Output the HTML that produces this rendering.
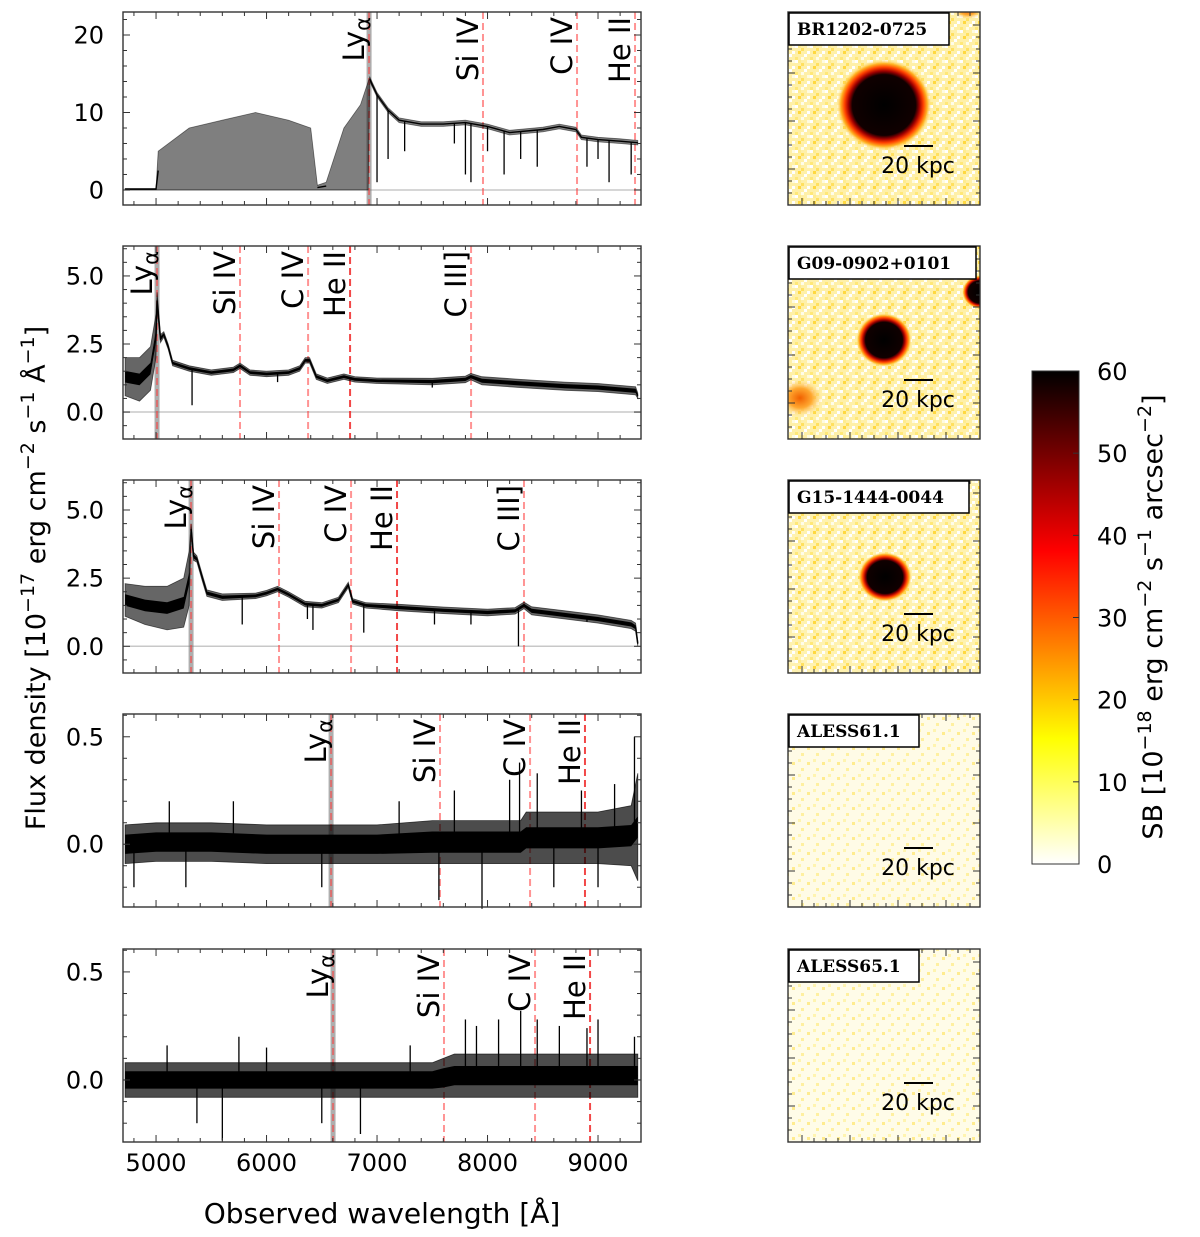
<!DOCTYPE html>
<html><head><meta charset="utf-8"><style>
html,body{margin:0;padding:0;background:#fff;}
svg{display:block;font-family:"DejaVu Sans","Liberation Sans",sans-serif;}
</style></head><body>
<svg id="fig" width="1200" height="1237" viewBox="0 0 1200 1237" xmlns="http://www.w3.org/2000/svg">
<defs>
<linearGradient id="cbar" x1="0" y1="1" x2="0" y2="0">
<stop offset="0" stop-color="#ffffff"/><stop offset="0.254" stop-color="#ffff00"/><stop offset="0.635" stop-color="#ff0000"/><stop offset="1" stop-color="#000000"/>
</linearGradient>
<radialGradient id="blob"><stop offset="0" stop-color="#000"/><stop offset="0.66" stop-color="#100000"/><stop offset="0.74" stop-color="#a00000"/><stop offset="0.82" stop-color="#ff4000"/><stop offset="0.9" stop-color="#ffb020"/><stop offset="1" stop-color="#fff0a0" stop-opacity="0"/></radialGradient>
<radialGradient id="blob2"><stop offset="0" stop-color="#f06000"/><stop offset="0.5" stop-color="#ffa830"/><stop offset="1" stop-color="#fff3b5" stop-opacity="0"/></radialGradient>
<pattern id="speck" x="0" y="0" width="15" height="15" patternUnits="userSpaceOnUse">
<rect x="0" y="0" width="3" height="3" fill="#fff"/><rect x="6" y="3" width="3" height="3" fill="#ffe060"/><rect x="12" y="0" width="3" height="3" fill="#fffbe0"/>
<rect x="3" y="6" width="3" height="3" fill="#ffd840"/><rect x="9" y="9" width="3" height="3" fill="#fff"/><rect x="0" y="12" width="3" height="3" fill="#ffe878"/>
<rect x="12" y="6" width="3" height="3" fill="#fff"/><rect x="6" y="12" width="3" height="3" fill="#fffde8"/><rect x="3" y="0" width="3" height="3" fill="#ffec90"/>
</pattern>
<pattern id="speck2" x="0" y="0" width="15" height="15" patternUnits="userSpaceOnUse">
<rect x="6" y="3" width="3" height="3" fill="#fff0a0"/><rect x="3" y="9" width="3" height="3" fill="#fff4b0"/><rect x="12" y="12" width="3" height="3" fill="#ffec90"/>
</pattern>
</defs>
<g id="layer"></g>
</svg>
<script>
// ---------------- data ----------------
const wl1=[4720,5000,5020,5300,5600,5900,6200,6400,6460,6540,6700,6850,6920,6935,6960,7000,7100,7200,7400,7600,7800,8000,8200,8500,8650,8800,8850,9000,9200,9360];
const mid1=[0.1,0.1,2.5,4,4.5,5,4.5,4,0.3,0.5,4,5.5,7,14.3,13.5,12.3,10.3,9,8.5,8.5,8.7,8.2,7.4,7.8,8.2,7.8,6.8,6.5,6.3,6.1];
const err1=[0.1,0.1,2.5,4,4.5,5,4.5,4,0.3,0.5,4,5.5,7,0.3,0.3,0.3,0.3,0.3,0.3,0.3,0.3,0.3,0.3,0.3,0.3,0.3,0.3,0.3,0.3,0.3];
const absW1=[7000,7100,7250,7700,7800,7850,8000,8150,8300,8450,8900,9000,9100,9300];
const absF1=[1,4,5,6,2,1,5,2,4,3,3,4,1,2];

const wl2=[4720,4850,4950,5000,5010,5040,5070,5110,5150,5300,5500,5700,5760,5850,6000,6200,6300,6350,6390,6450,6550,6700,6800,7000,7500,7800,7850,7950,8300,8700,9000,9340,9360];
const mid2=[1.3,1.2,1.6,2.8,4.1,2.7,2.85,2.4,1.8,1.6,1.45,1.55,1.7,1.45,1.4,1.45,1.6,1.9,1.9,1.3,1.15,1.3,1.2,1.15,1.12,1.2,1.3,1.15,1.05,0.95,0.9,0.78,0.6];
const err2=[0.7,0.8,0.8,0.8,0.3,0.15,0.1,0.1,0.1,0.1,0.1,0.1,0.1,0.1,0.1,0.1,0.1,0.1,0.1,0.1,0.1,0.1,0.1,0.1,0.12,0.12,0.12,0.15,0.15,0.15,0.15,0.15,0.1];
const absW2=[5326,6100,7500];
const absF2=[0.25,1.1,0.9];

const wl3=[4720,4900,5100,5250,5300,5317,5340,5370,5420,5460,5600,5900,6000,6100,6200,6350,6500,6650,6740,6780,6900,7200,7600,8000,8250,8330,8400,8700,9000,9300,9340,9360];
const mid3=[1.7,1.5,1.4,1.6,2.5,4.3,3.3,3.2,2.5,1.95,1.8,1.85,1.95,2.1,1.9,1.55,1.5,1.7,2.25,1.65,1.5,1.42,1.32,1.24,1.3,1.5,1.3,1.15,1.0,0.8,0.7,0.1];
const err3=[0.6,0.7,0.8,0.9,1.0,0.2,0.15,0.12,0.12,0.12,0.12,0.1,0.1,0.1,0.1,0.1,0.1,0.1,0.1,0.1,0.1,0.12,0.12,0.12,0.12,0.12,0.15,0.15,0.15,0.15,0.15,0.1];
const absW3=[5780,6370,6420,6880,7520,7850,8280,8900];
const absF3=[0.8,1.0,0.6,0.5,0.8,0.8,0.0,0.9];

const wl4=[4720,5000,5500,6000,6500,7000,7500,8000,8300,8350,8700,9000,9300,9360];
const mid4=[0,0.01,0.01,0,0,0,0.01,0.01,0.01,0.03,0.03,0.03,0.04,0.08];
const err4=[0.09,0.09,0.09,0.09,0.09,0.09,0.1,0.1,0.1,0.12,0.12,0.12,0.14,0.25];
const absW4=[4800,5120,5270,5700,6500,7200,7560,7700,7950,8200,8290,8450,8600,8850,9000,9150,9330];
const absF4=[-0.2,0.2,-0.2,0.2,-0.2,0.2,-0.26,0.25,-0.3,0.3,0.38,0.33,-0.2,0.25,-0.2,0.28,0.5];

const wl5=[4720,5000,5500,6000,6500,7000,7500,7600,7700,8000,8500,9000,9360];
const mid5=[0,0,0,0,0,0,0,0.01,0.02,0.02,0.02,0.02,0.02];
const err5=[0.08,0.08,0.08,0.08,0.08,0.08,0.08,0.09,0.1,0.1,0.1,0.1,0.1];
const absW5=[5100,5370,5600,5750,6000,6500,6850,7300,7800,7900,8100,8300,8450,8650,8900,9000,9330];
const absF5=[0.16,-0.2,-0.28,0.2,0.15,-0.2,-0.25,0.16,0.28,0.25,0.28,0.32,0.28,0.25,0.24,0.28,0.2];

const lineW1=[6928,7959,8810,9335];
const lineN1=["Lya","Si IV","C IV","He II"];
const lineW2=[5009,5760,6376,6756,7851];
const lineN2=["Lya","Si IV","C IV","He II","C III]"];
const lineW3=[5317,6113,6765,7181,8330];
const lineN3=["Lya","Si IV","C IV","He II","C III]"];
const lineW4=[6584,7570,8385,8882];
const lineN4=["Lya","Si IV","C IV","He II"];
const lineW5=[6602,7606,8430,8928];
const lineN5=["Lya","Si IV","C IV","He II"];

const yTicks1=[0,10,20], yTickLab1=["0","10","20"];
const yTicks23=[0,2.5,5], yTickLab23=["0.0","2.5","5.0"];
const yTicks45=[0,0.5], yTickLab45=["0.0","0.5"];
const xTicks=[5000,6000,7000,8000,9000];
const xTickLab=["5000","6000","7000","8000","9000"];
const cbTicks=[0,10,20,30,40,50,60];
const objNames=["BR1202-0725","G09-0902+0101","G15-1444-0044","ALESS61.1","ALESS65.1"];

// ---------------- layout ----------------
const NS="http://www.w3.org/2000/svg";
const layer=document.getElementById('layer');
function mk(tag,attrs,parent){const e=document.createElementNS(NS,tag);for(const k in attrs)e.setAttribute(k,attrs[k]);(parent||layer).appendChild(e);return e;}
const X0=123,X1=641,W0=4701,W1=9389;
const xs=w=>X0+(w-W0)/(W1-W0)*(X1-X0);
const tops=[12,246,480,714,949],H=193;
const panels=[
 {wl:wl1,mid:mid1,err:err1,aw:absW1,af:absF1,lw:lineW1,ln:lineN1,ymin:-1.94,ymax:22.97,yt:yTicks1,ytl:yTickLab1,minor:2,op:0.5,core:0,cap:0.03},
 {wl:wl2,mid:mid2,err:err2,aw:absW2,af:absF2,lw:lineW2,ln:lineN2,ymin:-0.99,ymax:6.1,yt:yTicks23,ytl:yTickLab23,minor:0.5,op:0.6,core:0.5,cap:0.03},
 {wl:wl3,mid:mid3,err:err3,aw:absW3,af:absF3,lw:lineW3,ln:lineN3,ymin:-0.98,ymax:6.1,yt:yTicks23,ytl:yTickLab23,minor:0.5,op:0.6,core:0.5,cap:0.03},
 {wl:wl4,mid:mid4,err:err4,aw:absW4,af:absF4,lw:lineW4,ln:lineN4,ymin:-0.292,ymax:0.606,yt:yTicks45,ytl:yTickLab45,minor:0.1,op:0.7,core:0.5,cap:0.055},
 {wl:wl5,mid:mid5,err:err5,aw:absW5,af:absF5,lw:lineW5,ln:lineN5,ymin:-0.287,ymax:0.606,yt:yTicks45,ytl:yTickLab45,minor:0.1,op:0.7,core:0.5,cap:0.05}
];
function interp(wl,arr,w){if(w<=wl[0])return arr[0];for(let i=1;i<wl.length;i++){if(w<=wl[i]){const t=(w-wl[i-1])/(wl[i]-wl[i-1]);return arr[i-1]+t*(arr[i]-arr[i-1]);}}return arr[arr.length-1];}

panels.forEach((p,pi)=>{
 const top=tops[pi],bot=top+H;
 const ys=v=>bot-(v-p.ymin)/(p.ymax-p.ymin)*H;
 const g=mk('g',{});
 
 
 const zl=mk('line',{x1:X0,x2:X1,y1:ys(0),y2:ys(0),stroke:'#c8c8c8','stroke-width':1.5},g);
 
 
 p.lw.forEach((w,i)=>{
  const x=xs(w);
  if(p.ln[i]==="Lya"){mk('line',{x1:x,x2:x,y1:top,y2:bot,stroke:'rgba(120,120,120,0.6)','stroke-width':5},g);}
  const dl=mk('line',{x1:x,x2:x,y1:top,y2:bot,stroke:(p.ln[i]==="He II"&&pi>0)?'rgba(240,40,40,0.85)':'rgba(255,60,60,0.55)','stroke-width':2,'stroke-dasharray':'7,4'},g);
  
  
 });
 const n=Math.min(p.wl.length,p.mid.length,p.err.length);
 let up=[],dn=[];
 for(let i=0;i<n;i++){up.push(xs(p.wl[i]).toFixed(1)+','+ys(p.mid[i]+p.err[i]).toFixed(1));dn.unshift(xs(p.wl[i]).toFixed(1)+','+ys(p.mid[i]-p.err[i]).toFixed(1));}
 const band=mk('polygon',{points:up.concat(dn).join(' '),fill:'#000','fill-opacity':p.op,stroke:'#000','stroke-width':0.8,'stroke-opacity':p.op},g);
 
 
 if(p.core>0){
  const cap=p.cap*(p.ymax-p.ymin);
  let u2=[],d2=[];
  for(let i=0;i<n;i++){const e=Math.min(p.err[i]*p.core,cap);u2.push(xs(p.wl[i]).toFixed(1)+','+ys(p.mid[i]+e).toFixed(1));d2.unshift(xs(p.wl[i]).toFixed(1)+','+ys(p.mid[i]-e).toFixed(1));}
  mk('polygon',{points:u2.concat(d2).join(' '),fill:'#000'},g);
 }
 let seg=[];
 const thr=0.12*(p.ymax-p.ymin);
 for(let i=0;i<n;i++){
  if(p.err[i]<thr){seg.push(xs(p.wl[i]).toFixed(1)+','+ys(p.mid[i]).toFixed(1));}
  else{if(seg.length>1)mk('polyline',{points:seg.join(' '),fill:'none',stroke:'#000','stroke-width':1.4},g);seg=[];}
 }
 if(seg.length>1){const pl=mk('polyline',{points:seg.join(' '),fill:'none',stroke:'#000','stroke-width':1.4},g);
  
  }
 const m=Math.min(p.aw.length,p.af.length);
 for(let i=0;i<m;i++){
  const x=xs(p.aw[i]);
  const s=mk('line',{x1:x,x2:x,y1:ys(interp(p.wl,p.mid,p.aw[i])),y2:ys(p.af[i]),stroke:'#000','stroke-width':1.3},g);
  
  
 }
 p.lw.forEach((w,i)=>{
  const x=xs(w)-5,y=top+5;
  const t=mk('text',{x:0,y:0,transform:`translate(${x},${y}) rotate(-90)`,'text-anchor':'end','font-size':29,fill:'#000'},g);
  
  
  if(p.ln[i]==="Lya"){const a=mk('tspan',{},t);a.textContent='Ly';const b=mk('tspan',{'font-size':21,dy:6},t);b.textContent='α';}
  else t.textContent=p.ln[i];
 });
 const fr=mk('rect',{x:X0,y:top,width:X1-X0,height:H,fill:'none',stroke:'#333','stroke-width':1.4},g);
 
 
 for(let w=4800;w<=9300;w+=200){const x=xs(w);const L=(w%1000===0)?7:4;
  mk('line',{x1:x,x2:x,y1:bot,y2:bot-L,stroke:'#333','stroke-width':1},g);
  mk('line',{x1:x,x2:x,y1:top,y2:top+L,stroke:'#333','stroke-width':1},g);}
 const k0=Math.ceil(p.ymin/p.minor),k1=Math.floor(p.ymax/p.minor);
 for(let k=k0;k<=k1;k++){const v=k*p.minor,y=ys(v);
  const maj=p.yt.some(t=>Math.abs(t-v)<1e-6);const L=maj?7:4;
  mk('line',{x1:X0,x2:X0+L,y1:y,y2:y,stroke:'#333','stroke-width':1},g);
  mk('line',{x1:X1,x2:X1-L,y1:y,y2:y,stroke:'#333','stroke-width':1},g);}
 p.yt.forEach((v,i)=>{const t=mk('text',{x:104,y:ys(v)+8.5,'text-anchor':'end','font-size':24,fill:'#000'},g);
  t.textContent=p.ytl[i];
  
  });
 if(pi===4){xTicks.forEach((w,i)=>{const t=mk('text',{x:xs(w),y:bot+29,'text-anchor':'middle','font-size':24,fill:'#000'},g);
  t.textContent=xTickLab[i];
  
  });}
});

const xt=mk('text',{x:382,y:1223,'text-anchor':'middle','font-size':28,fill:'#000'});
xt.textContent='Observed wavelength [Å]';


const yt=mk('text',{x:0,y:0,transform:'translate(45,578) rotate(-90)','text-anchor':'middle','font-size':27,fill:'#000'});


yt.innerHTML='Flux density [10<tspan baseline-shift="super" font-size="19">−17</tspan> erg cm<tspan baseline-shift="super" font-size="19">−2</tspan> s<tspan baseline-shift="super" font-size="19">−1</tspan> Å<tspan baseline-shift="super" font-size="19">−1</tspan>]';

const IX0=788,IX1=980;
const bgs=['#fff0a8','#fff0a8','#fff2b0','#fffbe6','#fffce8'];
const pats=['speck','speck','speck','speck2','speck2'];
const blobs=[[[884,105,48,46,'blob'],[968,10,16,10,'blob2']],[[884,340,28,27,'blob'],[980,292,18,17,'blob'],[800,398,24,20,'blob2']],[[885,577,27,25,'blob']],[],[]];
for(let pi=0;pi<5;pi++){
 const top=tops[pi];
 const g=mk('g',{});
 
 
 mk('rect',{x:IX0,y:top,width:IX1-IX0,height:H,fill:bgs[pi]},g);
 mk('rect',{x:IX0,y:top,width:IX1-IX0,height:H,fill:`url(#${pats[pi]})`},g);
 const cp=mk('clipPath',{id:'cp'+pi},g);mk('rect',{x:IX0,y:top,width:IX1-IX0,height:H},cp);
 const bg=mk('g',{'clip-path':`url(#cp${pi})`},g);
 blobs[pi].forEach(b=>{const e=mk('ellipse',{cx:b[0],cy:b[1],rx:b[2],ry:b[3],fill:`url(#${b[4]})`},bg);
  
  });
 for(let k=0;k<=16;k++){const y=top+13+k*12;if(y>top+H)break;const L=(k%4===0)?7:4;
  mk('line',{x1:IX0,x2:IX0+L,y1:y,y2:y,stroke:'#333'},g);mk('line',{x1:IX1,x2:IX1-L,y1:y,y2:y,stroke:'#333'},g);}
 for(let k=0;k<=16;k++){const x=IX0+14+k*12;if(x>IX1)break;const L=(k%4===0)?7:4;
  mk('line',{x1:x,x2:x,y1:top+H,y2:top+H-L,stroke:'#333'},g);mk('line',{x1:x,x2:x,y1:top,y2:top+L,stroke:'#333'},g);}
 mk('rect',{x:IX0,y:top,width:IX1-IX0,height:H,fill:'none',stroke:'#333','stroke-width':1.4},g);
 const bw=[160,187,180,130,130][pi];
 const nb=mk('rect',{x:IX0+1,y:top+1,width:bw,height:32,fill:'#fff',stroke:'#000','stroke-width':1.5},g);
 
 
 const nt=mk('text',{x:IX0+9,y:top+23,'font-family':'"DejaVu Serif","Liberation Serif",serif','font-weight':'bold','font-size':17,fill:'#000'},g);
 nt.textContent=objNames[pi];
 
 
 const sb=mk('line',{x1:904,x2:933,y1:top+134,y2:top+134,stroke:'#000','stroke-width':2},g);
 
 
 const st=mk('text',{x:918,y:top+161,'text-anchor':'middle','font-size':22,fill:'#000'},g);
 st.textContent='20 kpc';
 
 
}

const CB={x:1032,w:47,y0:864,y1:371};
const cb=mk('rect',{x:CB.x,y:CB.y1,width:CB.w,height:CB.y0-CB.y1,fill:'url(#cbar)',stroke:'#333','stroke-width':1});


cbTicks.forEach(v=>{const y=CB.y0-(v/60)*(CB.y0-CB.y1);
 mk('line',{x1:CB.x+CB.w,x2:CB.x+CB.w-6,y1:y,y2:y,stroke:'#333'});
 const t=mk('text',{x:CB.x+CB.w+18,y:y+9,'font-size':24,fill:'#000'});
 t.textContent=String(v);
 
 });
const ct=mk('text',{x:0,y:0,transform:'translate(1162,617) rotate(-90)','text-anchor':'middle','font-size':27,fill:'#000'});


ct.innerHTML='SB [10<tspan baseline-shift="super" font-size="19">−18</tspan> erg cm<tspan baseline-shift="super" font-size="19">−2</tspan> s<tspan baseline-shift="super" font-size="19">−1</tspan> arcsec<tspan baseline-shift="super" font-size="19">−2</tspan>]';
</script>
</body></html>
